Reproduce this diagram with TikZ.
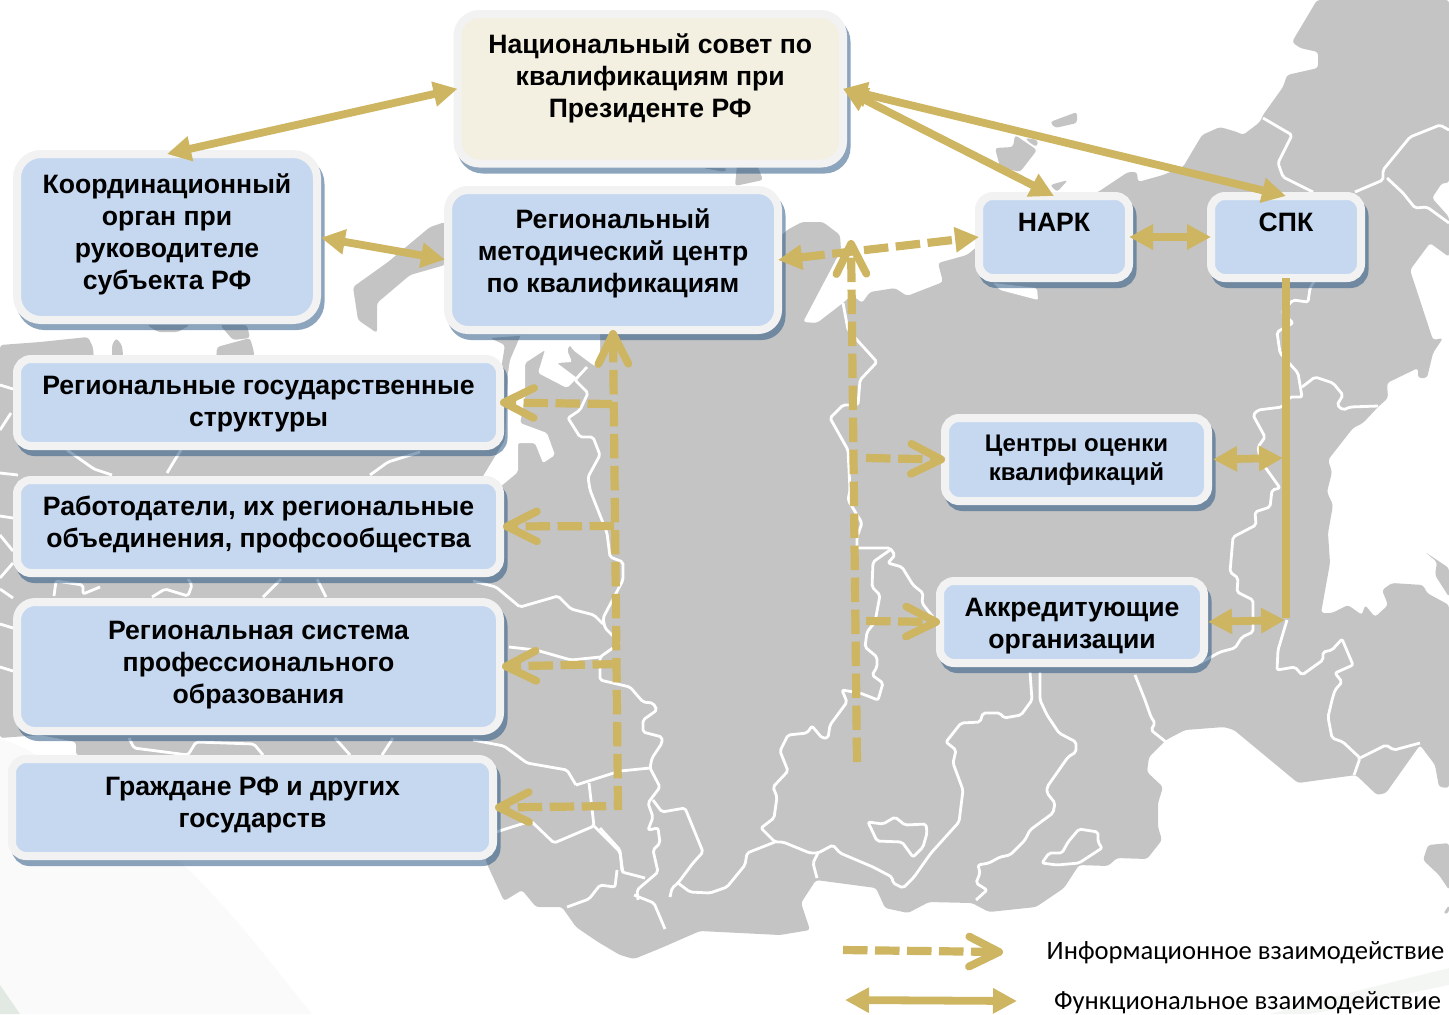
\documentclass[tikz,border=0pt]{standalone}
\usepackage{fontspec}
\setmainfont{Liberation Sans}
\newfontfamily\legendfont{Carlito}
\usetikzlibrary{arrows.meta}
\usetikzlibrary{shadows}
\definecolor{landgray}{HTML}{C4C4C4}
\definecolor{boxblue}{HTML}{C6D8F0}
\definecolor{boxcream}{HTML}{F3F0E1}
\definecolor{boxrim}{HTML}{F2F2F2}
\definecolor{boxshade}{HTML}{265582}
\definecolor{gold}{HTML}{CDB561}
\newcommand{\txtup}[1]{\\[#1]\mbox{}}
\tikzset{
    tri/.tip={Triangle[length=12pt,width=12pt]},
    barb/.tip={Straight Barb[length=15pt,width=15pt,line width=3.9pt,round]},
    land/.style={fill=landgray,line join=round,rounded corners=1.5pt},
    sea/.style={fill=white,line join=round,rounded corners=1pt},
    border/.style={draw=white,line width=1.4pt,line join=round,rounded corners=1pt},
    basebox/.style={rounded corners=7pt,draw=boxrim,line width=4pt,align=center,inner sep=0pt,outer sep=0pt,
        font=\bfseries\fontsize{13.3}{16}\selectfont,
        general shadow={shadow xshift=1.75pt,shadow yshift=-3pt,draw=boxshade,draw opacity=.53,line width=4pt}},
    bluebox/.style={basebox,fill=boxblue},
    creambox/.style={basebox,fill=boxcream},
    funcarr/.style={draw=gold,line width=3.9pt},
    infoarr/.style={draw=gold,line width=4.1pt,dash pattern=on 12.25pt off 3.75pt},
    legendtext/.style={font=\legendfont\fontsize{13.3}{15}\selectfont,inner sep=0pt}
}
\begin{document}
\begin{tikzpicture}[x=.5pt,y=-.5pt]
    \useasboundingbox (0,0) rectangle (1449,1014);
    % pale swooshes of the backdrop
    \fill[black!2!white] (0,738) .. controls (60,760) and (120,810) .. (188,869) .. controls (240,920) and (280,975) .. (312,1014) -- (0,1014) -- cycle;
    \fill[green!12!gray!20!white] (0,985) -- (20,1014) -- (0,1014) -- cycle;
    \fill[green!10!gray!8!white] (1449,968) .. controls (1380,985) and (1320,1000) .. (1270,1014) -- (1310,1014) .. controls (1360,1005) and (1400,995) .. (1449,985) -- cycle;
    % mainland
    \fill[land] (0,345)--(40,342)--(88,337)--(93,347)--(95,375)--(112,375)--(112,345)--(116,338)--(122,345)--(125,375)--(215,375)--(217,347)--(250,338)--(254,352)--(254,375)--(500,375)--(505,345)--(490,338)--(600,330)--(700,300)--(782,235)--(787,230)--(802,222)--(823,222)--(840,235)--(841,250)--(803,322)--(817,323)--(843,303)--(852,295)--(862,303)--(870,292)--(895,288)--(907,296)--(943,282)--(938,263)--(967,255)--(985,240)--(1098,192)--(1128,172)--(1137,172)--(1138,182)--(1163,175)--(1183,167)--(1202,135)--(1220,127)--(1237,132)--(1243,135)--(1260,122)--(1263,115)--(1283,87)--(1287,75)--(1318,68)--(1318,52)--(1300,48)--(1292,42)--(1317,0)
        --(1449,0)--(1449,183)--(1442,183)--(1432,198)--(1449,217)--(1449,257)--(1430,243)--(1410,270)--(1433,340)--(1443,338)--(1433,353)--(1427,378)--(1418,378)--(1418,368)--(1387,383)--(1388,398)--(1378,407)--(1363,423)--(1353,428)--(1328,460)--(1332,472)--(1327,492)--(1333,505)--(1328,533)--(1330,563)--(1321,613)--(1332,613)--(1348,605)--(1362,615)--(1365,605)--(1375,617)--(1388,605)--(1382,590)--(1392,583)--(1423,585)--(1427,593)--(1449,605)
        --(1449,788)--(1439,787)--(1435,765)--(1420,745)--(1386,793)--(1377,795)--(1356,775)--(1298,783)--(1234,730)--(1224,727)--(1185,730)--(1166,740)--(1149,757)--(1147,772)--(1163,787)--(1158,803)--(1158,827)--(1162,840)--(1147,859)--(1117,858)--(1108,866)--(1079,865)--(1064,888)--(1036,907)--(989,912)--(972,903)--(929,902)--(908,913)--(885,908)--(876,888)--(816,880)--(801,903)--(810,930)--(780,935)--(700,931)--(661,948)--(634,959)--(620,955)--(598,942)--(576,927)--(562,907)--(536,907)--(522,890)--(504,901)--(487,864)--(470,800)--(76,755)--(76,742)--(40,735)--(0,738)--cycle;
    % inland sea
    \fill[sea] (523,330)--(510,360)--(508,373)--(505,440)--(482,478)--(500,487)--(518,472)--(518,443)--(535,443)--(543,463)--(555,455)--(547,433)--(520,423)--(525,400)--(525,363)--(545,350)--(538,373)--(567,388)--(577,378)--(557,363)--(572,362)--(567,350)--(570,345)--(573,350)--(593,365)--(600,368)--(600,330)--cycle;
    \fill[sea] (993,283)--(1037,288)--(1038,300)--(1000,290)--cycle;
    % islands and pieces in the gaps
    \fill[land] (353,287)--(388,262)--(430,227)--(445,222)--(445,265)--(410,275)--(377,303)--(377,333)--(358,320)--cycle;
    \fill[land] (737,165)--(757,165)--(763,180)--(735,186)--cycle;
    \fill[land] (703,168)--(727,168)--(725,172)--cycle;
    \fill[land] (147,325)--(190,325)--(178,332)--(158,332)--cycle;
    \fill[land] (220,325)--(247,325)--(250,338)--(233,340)--cycle;
    \fill[land] (1050,122)--(1077,112)--(1077,123)--(1055,128)--cycle;
    \fill[land] (995,148)--(1013,147)--(1015,135)--(1037,150)--(1020,172)--(1000,167)--cycle;
    \fill[land] (1025,138)--(1038,140)--(1037,147)--(1030,143)--cycle;
    \fill[land] (1050,185)--(1068,180)--(1057,192)--cycle;
    \fill[land] (1425,552)--(1449,568)--(1449,597)--(1435,575)--(1437,562)--cycle;
    \fill[land] (1449,843)--(1428,845)--(1423,860)--(1439,875)--(1449,890)--cycle;
    \fill[land] (1449,913)--(1443,914)--(1449,905)--cycle;
    % region borders, east
    \draw[border] (1263,118)--(1292,135)--(1278,163)--(1283,177)--(1313,192);
    \draw[border] (1355,192)--(1383,180)--(1383,170)--(1410,137)--(1440,125)--(1449,130);
    \draw[border] (1387,178)--(1403,193)--(1415,208)--(1427,207)--(1449,223);
    \draw[border] (1315,280)--(1310,288)--(1308,302)--(1293,300)--(1282,312)--(1293,323)--(1277,332)--(1280,353)--(1298,373)--(1302,397)--(1290,397)--(1282,407)--(1258,410)--(1253,415)--(1265,437)--(1258,447)--(1260,460)--(1280,488)--(1272,490)--(1270,507)--(1255,512)--(1256,525)--(1233,537)--(1230,572)--(1238,578)--(1237,592)--(1253,600)--(1253,632)--(1242,637)--(1235,648)--(1220,652)--(1200,663);
    \draw[border] (1302,387)--(1315,377)--(1333,383)--(1343,395)--(1337,405)--(1343,410)--(1350,407)--(1378,406);
    \draw[border] (1287,620)--(1278,650)--(1277,670)--(1295,667)--(1302,675)--(1323,660)--(1323,652)--(1332,650)--(1342,639)--(1353,665)--(1335,673)--(1342,682)--(1335,690)--(1332,700)--(1328,717)--(1332,738)--(1343,742)--(1360,758)--(1354,775);
    \draw[border] (1360,758)--(1386,745)--(1394,750)--(1420,743);
    \draw[border] (1135,675)--(1145,700)--(1151,717)--(1155,723)--(1151,730)--(1166,742);
    \draw[border] (1040,672)--(1040,700)--(1047,715)--(1059,733)--(1076,742)--(1076,752)--(1068,757)--(1047,787)--(1047,793)--(1055,803)--(1053,813)--(1030,830)--(1025,840)--(1010,855)--(1000,857)--(989,863)--(978,865)--(980,873)--(976,883)--(987,890)--(976,900);
    \draw[border] (1030,672)--(1032,700)--(1021,715)--(1004,718)--(1000,713)--(983,713)--(980,722)--(961,723)--(946,742)--(956,750)--(953,763)--(963,790)--(959,822)--(931,853)--(914,877)--(903,888)--(893,883)--(892,877)--(873,867)--(840,853)--(833,845)--(818,853)--(810,853)--(783,842)--(775,842)--(761,828)--(774,818)--(777,797)--(773,787)--(788,771)--(780,751)--(788,735)--(807,733)--(812,726)--(822,738)--(828,738)--(830,725)--(847,702)--(842,690)--(860,693)--(878,700)--(883,683)--(872,675)--(877,667)--(877,657)--(865,647)--(867,632)--(875,622)--(880,595)--(872,587)--(873,562)--(890,550);
    \draw[border] (843,303)--(848,330)--(877,362)--(860,380)--(858,405)--(843,405)--(830,418)--(848,450)--(850,490)--(848,500)--(862,523)--(857,537)--(857,548)--(890,548)--(895,555)--(888,563)--(902,567)--(913,585)--(923,593)--(922,603)--(933,617);
    \draw[border] (818,853)--(813,863)--(817,878);
    \draw[border] (775,842)--(747,853)--(745,865)--(727,887)--(710,893)--(690,892)--(678,883);
    \draw[border] (868,822)--(883,824)--(895,817)--(905,825)--(926,824)--(927,833)--(923,847)--(913,857)--(902,842)--(877,841)--cycle;
    \draw[border] (1042,863)--(1049,853)--(1062,853)--(1068,842)--(1079,829)--(1098,832)--(1098,842)--(1102,848)--(1079,863)--(1057,865)--cycle;
    % region borders, west
    \draw[border] (587,367)--(575,380)--(588,393)--(580,410)--(568,418)--(580,437)--(593,437)--(600,455)--(588,477)--(590,490)--(607,533)--(610,557)--(623,562)--(623,580)--(603,618)--(605,628)--(620,643)--(600,657)--(600,680)--(630,687)--(643,702)--(653,703)--(657,710)--(643,720)--(643,732)--(662,737)--(662,743)--(652,758)--(650,768)--(660,787)--(648,803)--(653,817)--(648,830)--(658,828)--(660,843)--(653,850)--(658,872)--(637,890)--(638,900);
    \draw[border] (653,800)--(662,812)--(685,808)--(703,852)--(693,863)--(678,883)--(672,888)--(670,897);
    \draw[border] (576,785)--(598,778)--(620,771)--(650,768);
    \draw[border] (600,828)--(620,850)--(622,872)--(645,878);
    \draw[border] (617,870)--(615,887)--(600,885)--(589,899)--(567,907);
    \draw[border] (509,647)--(536,650)--(571,660)--(600,657);
    \draw[border] (473,581)--(496,587)--(520,607)--(558,596)--(571,609)--(594,615)--(603,624);
    \draw[border] (473,740)--(504,746)--(527,763)--(567,770)--(576,785);
    \draw[border] (589,783)--(594,826)--(554,843)--(531,821)--(496,832);
    \draw[border] (594,826)--(620,852)--(623,873);
    \draw[border] (634,895)--(654,903)--(665,929);
    \draw[border] (67,450)--(94,469)--(112,475);
    \draw[border] (167,473)--(176,458)--(181,450);
    \draw[border] (370,475)--(388,462)--(420,452);
    \draw[border] (0,473)--(18,475);
    \draw[border] (54,596)--(56,581)--(83,585)--(83,594)--(100,587);
    \draw[border] (152,597)--(165,589)--(188,596)--(192,585)--(188,579);
    \draw[border] (263,597)--(281,579);
    \draw[border] (317,579)--(326,597);
    \draw[border] (129,738)--(134,748)--(188,755)--(196,742)--(254,744)--(263,755);
    \draw[border] (335,738)--(350,755);
    \draw[border] (382,755)--(393,738);
    \draw[border] (0,385)--(13,389);
    \draw[border] (11,413)--(0,430);
    \draw[border] (0,516)--(13,518);
    \draw[border] (0,535)--(13,551);
    \draw[border] (0,578)--(13,563);
    \draw[border] (0,589)--(13,598);
    \draw[border] (0,624)--(13,628);
    \draw[border] (0,667)--(13,671);
    % boxes
    \node[creambox,rounded corners=11pt,minimum width=192.75pt,minimum height=74.75pt] (natl) at (650.25,88.75) {Национальный совет по\\квалификациям при\\Президенте РФ\txtup{-2.6pt}};
    \node[bluebox,rounded corners=12pt,minimum width=150pt,minimum height=83pt] (koord) at (167,237) {Координационный\\орган при\\руководителе\\субъекта РФ\txtup{-10.4pt}};
    \node[bluebox,rounded corners=10pt,minimum width=165pt,minimum height=70pt] (rmc) at (613,260) {Региональный\\методический центр\\по квалификациям\txtup{-6.4pt}};
    \node[bluebox,minimum width=75pt,minimum height=41pt] (nark) at (1054,237) {НАРК\txtup{-1.4pt}};
    \node[bluebox,minimum width=75pt,minimum height=41pt] (spk) at (1286,237) {СПК\txtup{-1.4pt}};
    \node[bluebox,minimum width=241.5pt,minimum height=43.5pt] (gov) at (258.5,402.5) {Региональные государственные\\структуры\txtup{-14.9pt}};
    \node[bluebox,minimum width=241.5pt,minimum height=46.5pt] (empl) at (258.5,526.5) {Работодатели, их региональные\\объединения, профсообщества\txtup{-10.9pt}};
    \node[bluebox,rounded corners=9pt,minimum width=241.5pt,minimum height=64.5pt] (edu) at (258.5,666.5) {Региональная система\\профессионального\\образования\txtup{-11.9pt}};
    \node[bluebox,minimum width=240.5pt,minimum height=48.5pt] (citiz) at (252.5,807.5) {Граждане РФ и других\\государств\txtup{-10.9pt}};
    \node[bluebox,font=\bfseries\fontsize{12}{14.5}\selectfont,minimum width=131.5pt,minimum height=41.5pt] (assess) at (1076.5,459.5) {Центры оценки\\квалификаций\txtup{-12.8pt}};
    \node[bluebox,minimum width=132pt,minimum height=41pt] (accr) at (1072,622) {Аккредитующие\\организации\txtup{-17.4pt}};
    % free ends of the connectors
    \coordinate (trunktop) at (851,240);
    \coordinate (trunkend) at (857,762);
    \coordinate (trunkassess) at (866,458);
    \coordinate (trunkaccr) at (866,621);
    \coordinate (busend) at (618,806);
    \coordinate (busgov) at (612,404);
    \coordinate (busempl) at (614,526);
    \coordinate (busedu) at (617,664);
    \coordinate (spkend) at (1286,618);
    \coordinate (spkassess) at (1283,458);
    \coordinate (spkaccr) at (1285,620);
    \coordinate (leginfoa) at (843,950);
    \coordinate (leginfob) at (1003,952);
    \coordinate (legfunca) at (845,1000);
    \coordinate (legfuncb) at (1017,1001);
    % functional links
    \draw[funcarr,tri-tri] (koord.north)--(natl.west);
    \draw[funcarr,tri-tri] (natl.east)--(nark.north);
    \draw[funcarr,tri-tri] (natl.east)--(spk.north);
    \draw[funcarr,tri-tri,shorten <=2pt,shorten >=1.5pt] (koord.east)--(rmc.west);
    \draw[funcarr,tri-tri] (nark.east)--(spk.west);
    \draw[funcarr] (spk.south)--(spkend);
    \draw[funcarr,tri-tri,shorten <=2.5pt] (assess.east)--(spkassess);
    \draw[funcarr,tri-tri,shorten <=2pt] (accr.east)--(spkaccr);
    % information links
    \draw[infoarr,tri-tri] (rmc.east)--(nark.west);
    \draw[infoarr,-barb] (trunkend)--(trunktop);
    \draw[infoarr,-barb] (trunkassess)--(assess.west);
    \draw[infoarr,-barb] (trunkaccr)--(accr.west);
    \draw[infoarr,barb-barb,shorten >=1pt] (rmc.south)--(busend)--(citiz.east);
    \draw[infoarr,-barb] (busgov)--(gov.east);
    \draw[infoarr,-barb,shorten >=1.5pt] (busempl)--(empl.east);
    \draw[infoarr,-barb,shorten >=1pt] (busedu)--(edu.east);
    % legend
    \draw[infoarr,-barb] (leginfoa)--(leginfob);
    \draw[funcarr,tri-tri] (legfunca)--(legfuncb);
    \node[legendtext] (leginfo) at (1245.5,953) {Информационное взаимодействие};
    \node[legendtext] (legfunc) at (1247.5,1003) {Функциональное взаимодействие};
\end{tikzpicture}
\end{document}
